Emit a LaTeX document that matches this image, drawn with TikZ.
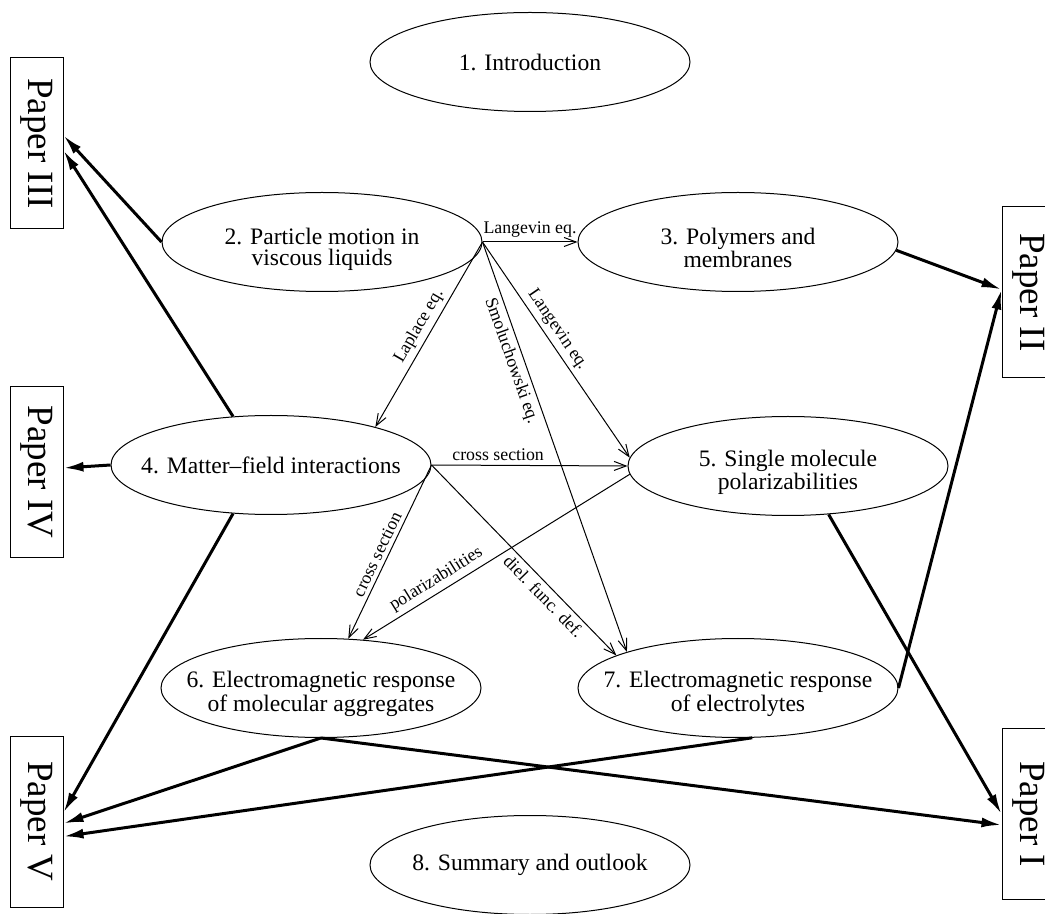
\documentclass[tikz,border=0pt]{standalone}
\usepackage{graphicx}
\usepackage{fontspec}
\setmainfont{Liberation Serif}
\usetikzlibrary{positioning,arrows.meta,shapes.geometric}
\tikzset{
  topic/.style   ={ellipse, draw, line width=0.5pt, minimum width=160pt, minimum height=49.5pt,
                   inner xsep=-14pt, inner ysep=0pt, align=center, font=\fontsize{11.8}{10.5}\selectfont},
  twoline/.style ={text height=26pt},
  paper/.style   ={rectangle, draw, line width=0.5pt, minimum width=26.5pt, minimum height=85.5pt, inner sep=0pt},
  linkarr/.style ={-{Straight Barb[length=6pt,width=4.5pt]}, line width=0.5pt},
  paperarr/.style={-{Latex[length=10pt,width=5pt]}, line width=1.5pt},
  lbl/.style     ={font=\fontsize{8.9}{10}\selectfont, inner sep=2pt},
}
\newcommand{\papertxt}[1]{\rotatebox{-90}{\fontsize{18.5}{20}\selectfont #1}}

\begin{document}
\begin{tikzpicture}[x=0.5pt, y=-0.5pt]
\useasboundingbox (0,0) rectangle (1045,914);
% chapters
\node[topic] (intro)  at (530,62)  {1. Introduction};
\node[topic, twoline] (part)   at (322,242) {2. Particle motion in\\viscous liquids};
\node[topic, twoline] (poly)   at (738,242) {3. Polymers and\\membranes};
\node[topic] (field)  at (271,465) {4. Matter--field interactions};
\node[topic, twoline] (single) at (788,466) {5. Single molecule\\polarizabilities};
\node[topic, twoline] (aggr)   at (321,688) {6. Electromagnetic response\\of molecular aggregates};
\node[topic, twoline] (elyt)   at (738,688) {7. Electromagnetic response\\of electrolytes};
\node[topic] (summ)   at (530,865) {8. Summary and outlook};
% papers
\node[paper] (p3) at (36.5,143.5)  {\papertxt{Paper III}};
\node[paper] (p4) at (36.5,472)    {\papertxt{Paper IV}};
\node[paper] (p5) at (36.5,821.5)  {\papertxt{Paper V}};
\node[paper] (p2) at (1028.5,292.5) {\papertxt{Paper II}};
\node[paper] (p1) at (1028.5,814)  {\papertxt{Paper I}};
% links between chapters
\draw[linkarr] (part.east) -- node[lbl, above] {Langevin eq.} (poly.west);
\draw[linkarr] (part.east) -- node[lbl, sloped, above, pos=0.49] {Laplace eq.} (field.20);
\draw[linkarr] (part.east) -- node[lbl, sloped, below, pos=0.28] {Smoluchowski eq.} (elyt.162);
\draw[linkarr] (part.east) -- node[lbl, sloped, above, pos=0.44] {Langevin eq.} (single.177);
\draw[linkarr] (field.east) -- node[lbl, above, pos=0.34] {cross section} (single.west);
\draw[linkarr] (field.east) -- node[lbl, sloped, above, pos=0.54] {cross section} (aggr.61);
\draw[linkarr] (field.east) -- node[lbl, sloped, below, pos=0.65] {diel. func. def.} (elyt.165);
\draw[linkarr] (single.183) -- node[lbl, sloped, above, pos=0.7] {polarizabilities} (aggr.49);
% chapters to papers
\draw[paperarr] (part.west) -- ([yshift=4pt]p3.east);
\draw[paperarr] (field.128) -- ([yshift=-3.5pt]p3.east);
\draw[paperarr] (field.west) -- ([yshift=2pt]p4.east);
\draw[paperarr] (field.232) -- ([yshift=4.5pt]p5.east);
\draw[paperarr] (aggr.south) -- ([yshift=-1pt]p5.east);
\draw[paperarr] (elyt.-74) -- ([yshift=-7.5pt]p5.east);
\draw[paperarr] (aggr.south) -- ([yshift=-5.5pt]p1.west);
\draw[paperarr] (single.-50) -- (p1.west);
\draw[paperarr] (elyt.east) -- ([yshift=1.5pt]p2.west);
\draw[paperarr] (poly.-3) -- ([yshift=1.5pt]p2.west);
\end{tikzpicture}
\end{document}
